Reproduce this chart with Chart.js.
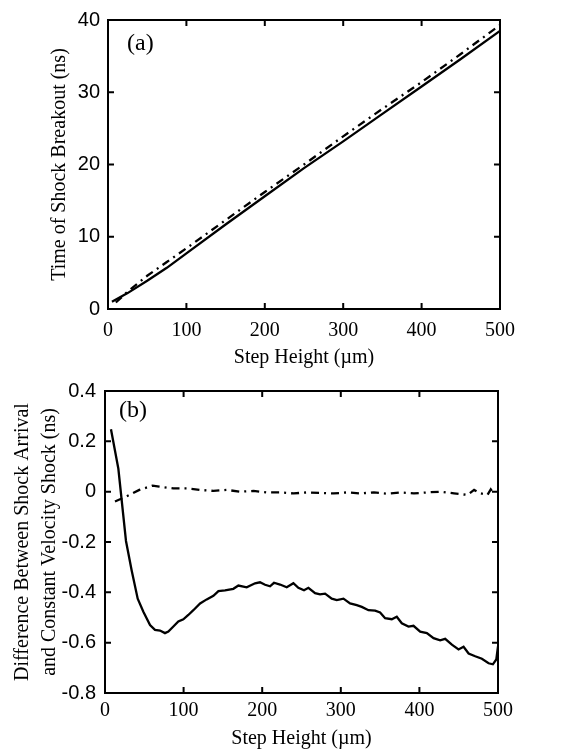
<!DOCTYPE html>
<html>
<head>
<meta charset="utf-8">
<script src="https://cdn.jsdelivr.net/npm/chart.js@4/dist/chart.umd.min.js"></script>
<style>
  body { margin: 0; background: #fff; }
  .panel { position: absolute; left: 0; }
</style>
</head>
<body>
<div class="panel" style="top:0"><canvas id="chartA" width="586" height="370"></canvas></div>
<div class="panel" style="top:370px"><canvas id="chartB" width="586" height="386"></canvas></div>
<script>
// panel (a): time of shock breakout vs step height
const stepA_solid = [5, 25, 50, 75, 100, 150, 200, 250, 300, 350, 400, 450, 500];
const timeA_solid = [1.0, 2.2, 3.9, 5.7, 7.7, 11.7, 15.6, 19.5, 23.2, 27.0, 30.8, 34.6, 38.5];
const stepA_dash = [10, 25, 50, 75, 100, 150, 200, 250, 300, 350, 400, 450, 500];
const timeA_dash = [0.9, 2.4, 4.6, 6.5, 8.4, 12.3, 16.2, 20.0, 23.9, 27.7, 31.4, 35.3, 39.3];

// panel (b): difference between shock arrival and constant velocity shock
const stepB_solid = [7.6, 17, 26.7, 34, 41.6, 48.8, 57.3, 63.6, 70, 76.3, 80.6, 87, 93.3, 99.7,
  106, 112.4, 121, 129.4, 137.9, 144.3, 152.7, 163.3, 169.7, 180.3, 190.9, 197.2, 203.6, 210,
  215, 222.7, 231.2, 239.7, 246, 253.2, 258.8, 267.3, 273.6, 280, 288.5, 294.9, 303.4, 311.8,
  320.3, 326.7, 335.2, 343.7, 350, 356.4, 364.9, 371.2, 377.6, 386.1, 392.5, 401, 409.5, 418,
  426.4, 432.8, 441.3, 449.8, 456.2, 462.6, 471, 479.5, 488, 493.5, 497.8, 500];
const diffB_solid = [0.248, 0.091, -0.196, -0.314, -0.425, -0.477, -0.53, -0.549, -0.552, -0.562,
  -0.556, -0.536, -0.516, -0.507, -0.49, -0.471, -0.444, -0.428, -0.414, -0.395, -0.392, -0.386,
  -0.373, -0.38, -0.364, -0.36, -0.37, -0.376, -0.362, -0.369, -0.38, -0.364, -0.382, -0.392,
  -0.382, -0.403, -0.408, -0.405, -0.425, -0.431, -0.425, -0.444, -0.451, -0.458, -0.471, -0.473,
  -0.48, -0.503, -0.507, -0.497, -0.523, -0.536, -0.533, -0.556, -0.562, -0.582, -0.591, -0.585,
  -0.608, -0.627, -0.616, -0.643, -0.654, -0.664, -0.682, -0.686, -0.667, -0.615];
const stepB_dash = [12.7, 26.7, 43.7, 60.6, 69, 87, 104, 121, 138, 155, 172, 189, 206, 223, 240,
  257, 274, 291, 308, 325, 342, 359, 376, 393, 410, 427, 444, 461, 469.6, 478, 486.6, 490.8, 495];
const diffB_dash = [-0.039, -0.02, 0.007, 0.024, 0.02, 0.013, 0.013, 0.007, 0.003, 0.007, 0, 0.003,
  -0.003, -0.003, -0.007, -0.003, -0.005, -0.007, -0.003, -0.007, -0.003, -0.008, -0.003, -0.007,
  -0.003, 0, -0.007, -0.013, 0.007, -0.007, -0.013, 0.009, -0.01];

const xTicks = [0, 100, 200, 300, 400, 500];
const yTicksA = [0, 10, 20, 30, 40];
const yTicksB = [-0.8, -0.6, -0.4, -0.2, 0, 0.2, 0.4];

const serif = "'Liberation Serif', 'Times New Roman', serif";
const sans = "'Liberation Sans', Arial, sans-serif";

function toPoints(xs, ys) {
  return xs.map((x, i) => ({ x: x, y: ys[i] }));
}

// box around the plot with inward ticks on all four sides, plus panel letter
function frameTicks(label, lx, ly) {
  return {
    id: "frameTicks",
    afterDraw(chart) {
      const ctx = chart.ctx;
      const a = chart.chartArea;
      const xs = chart.scales.x;
      const ys = chart.scales.y;
      ctx.save();
      ctx.strokeStyle = "#000";
      ctx.lineWidth = 2;
      ctx.strokeRect(a.left, a.top, a.right - a.left, a.bottom - a.top);
      ctx.beginPath();
      xs.ticks.forEach((t) => {
        const px = xs.getPixelForValue(t.value);
        ctx.moveTo(px, a.bottom);
        ctx.lineTo(px, a.bottom - 6);
        ctx.moveTo(px, a.top);
        ctx.lineTo(px, a.top + 6);
      });
      ys.ticks.forEach((t) => {
        const py = ys.getPixelForValue(t.value);
        ctx.moveTo(a.left, py);
        ctx.lineTo(a.left + 6, py);
        ctx.moveTo(a.right, py);
        ctx.lineTo(a.right - 6, py);
      });
      ctx.stroke();
      ctx.fillStyle = "#000";
      ctx.font = "24px " + serif;
      ctx.textBaseline = "alphabetic";
      ctx.fillText(label, lx, ly);
      ctx.restore();
    },
  };
}

function makeChart(id, cfg) {
  return new Chart(document.getElementById(id).getContext("2d"), {
    type: "scatter",
    data: {
      datasets: [
        {
          data: cfg.solid,
          showLine: true,
          borderColor: "#000",
          borderWidth: 2.3,
          pointRadius: 0,
          tension: 0,
        },
        {
          data: cfg.dash,
          showLine: true,
          borderColor: "#000",
          borderWidth: 2.3,
          borderDash: [8, 5, 2, 5],
          pointRadius: 0,
          tension: 0,
        },
      ],
    },
    options: {
      responsive: false,
      animation: false,
      layout: { padding: cfg.padding },
      plugins: { legend: { display: false }, tooltip: { enabled: false } },
      scales: {
        x: {
          type: "linear",
          min: 0,
          max: 500,
          afterBuildTicks: (s) => { s.ticks = xTicks.map((v) => ({ value: v })); },
          afterFit: (s) => { s.height = cfg.xHeight; },
          grid: { display: false, drawTicks: false },
          border: { display: false },
          ticks: {
            padding: cfg.xPad,
            color: "#000",
            font: { family: serif, size: 20 },
            maxRotation: 0,
          },
          title: {
            display: true,
            text: "Step Height (\u00b5m)",
            color: "#000",
            font: { family: serif, size: 20 },
            padding: { top: 0, bottom: cfg.xTitlePad },
          },
        },
        y: {
          type: "linear",
          min: cfg.yMin,
          max: cfg.yMax,
          afterBuildTicks: (s) => { s.ticks = cfg.yTicks.map((v) => ({ value: v })); },
          afterFit: (s) => { s.width = cfg.yWidth; },
          grid: { display: false, drawTicks: false },
          border: { display: false },
          ticks: {
            padding: cfg.yPad,
            color: "#000",
            font: { family: sans, size: 20 },
            callback: (v) => String(Math.round(v * 10) / 10),
          },
          title: {
            display: true,
            text: cfg.yTitle,
            color: "#000",
            font: { family: serif, size: 20, lineHeight: 1.35 },
            padding: { top: cfg.yTitlePad, bottom: 0 },
          },
        },
      },
    },
    plugins: [frameTicks(cfg.label, cfg.lx, cfg.ly)],
  });
}

makeChart("chartA", {
  solid: toPoints(stepA_solid, timeA_solid),
  dash: toPoints(stepA_dash, timeA_dash),
  padding: { left: 0, right: 86, top: 15, bottom: 0 },
  xHeight: 61,
  yWidth: 108,
  xPad: 10,
  yPad: 8,
  xTitlePad: 0,
  yTitlePad: 46,
  yMin: 0,
  yMax: 40,
  yTicks: yTicksA,
  yTitle: "Time of Shock Breakout (ns)",
  label: "(a)",
  lx: 127,
  ly: 50,
});

makeChart("chartB", {
  solid: toPoints(stepB_solid, diffB_solid),
  dash: toPoints(stepB_dash, diffB_dash),
  padding: { left: 0, right: 88, top: 18, bottom: 0 },
  xHeight: 63,
  yWidth: 105,
  xPad: 6,
  yPad: 9,
  xTitlePad: 5,
  yTitlePad: 9,
  yMin: -0.8,
  yMax: 0.4,
  yTicks: yTicksB,
  yTitle: ["Difference Between Shock Arrival", "and Constant Velocity Shock (ns)"],
  label: "(b)",
  lx: 119,
  ly: 47,
});
</script>
</body>
</html>
